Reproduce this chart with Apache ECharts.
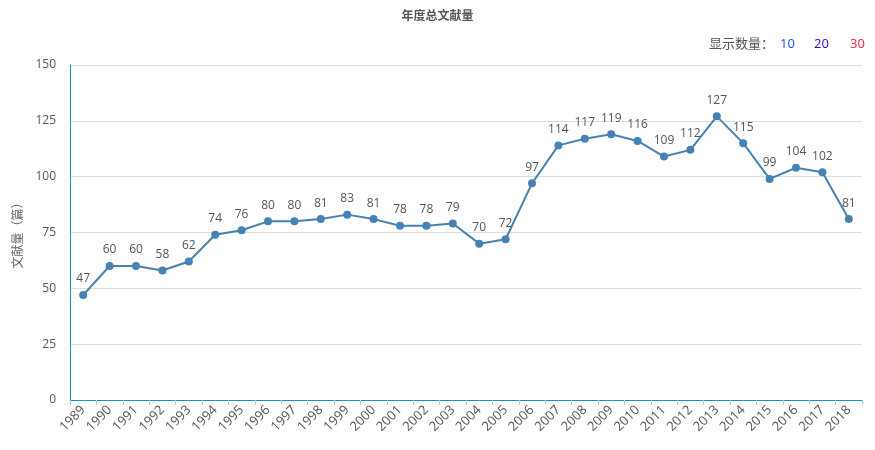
<!DOCTYPE html>
<html>
<head>
<meta charset="utf-8">
<script src="https://cdn.jsdelivr.net/npm/echarts@6/dist/echarts.min.js"></script>
<style>
html,body{margin:0;padding:0;background:#fff;}
#main{width:875px;height:450px;}
</style>
</head>
<body>
<div id="main"></div>
<script>
// 年份
var years = ['1989','1990','1991','1992','1993','1994','1995','1996','1997','1998','1999','2000','2001','2002','2003','2004','2005','2006','2007','2008','2009','2010','2011','2012','2013','2014','2015','2016','2017','2018'];
// 文献量
var counts = [47,60,60,58,62,74,76,80,80,81,83,81,78,78,79,70,72,97,114,117,119,116,109,112,127,115,99,104,102,81];
// 显示数量选项
var showNums = ['10','20','30'];
var showColors = ['#1a4dff','#3300cc','#ff1a4d'];

var font = '"Open Sans","Noto Sans CJK SC",sans-serif';
var chart = echarts.init(document.getElementById('main'));

var graphics = [{
	type:'text', left:709, top:38,
	style:{text:'显示数量：', fill:'#555', font:'13px ' + font}
}];
var xs = [780, 814, 850];
for (var k = 0; k < showNums.length; k++) {
	graphics.push({
		type:'text', left:xs[k], top:38,
		style:{text:showNums[k], fill:showColors[k], font:'13px ' + font}
	});
}

var option = {
	title:{
		text:'年度总文献量',
		left:'center',
		top:6,
		textStyle:{color:'#555', fontSize:12, fontWeight:'bold', fontFamily:font}
	},
	graphic:graphics,
	grid:{left:70, right:13, top:65, bottom:50},
	xAxis:{
		type:'category',
		data:years,
		boundaryGap:true,
		axisLine:{show:true, lineStyle:{color:'#1a8fd0', width:1}},
		axisTick:{show:true, lineStyle:{color:'#b8c8dc'}},
		axisLabel:{rotate:45, interval:0, color:'#555', fontSize:13, fontFamily:font},
		splitLine:{show:false}
	},
	yAxis:{
		type:'value',
		min:0, max:150, interval:25,
		name:'文献量（篇）',
		nameLocation:'middle',
		nameGap:43,
		nameTextStyle:{color:'#666', fontSize:12, fontFamily:font},
		axisLine:{show:true, lineStyle:{color:'#1a8fd0', width:1}},
		axisTick:{show:false},
		axisLabel:{color:'#555', fontSize:12, margin:14, fontFamily:font},
		splitLine:{show:true, lineStyle:{color:'#dddddd'}}
	},
	series:[{
		type:'line',
		data:counts,
		symbol:'circle',
		symbolSize:8,
		itemStyle:{color:'#4682b4'},
		lineStyle:{color:'#4682b4', width:2},
		label:{show:true, position:'top', color:'#555', fontSize:12, fontFamily:font, distance:6}
	}]
};
chart.setOption(option);
</script>
</body>
</html>
